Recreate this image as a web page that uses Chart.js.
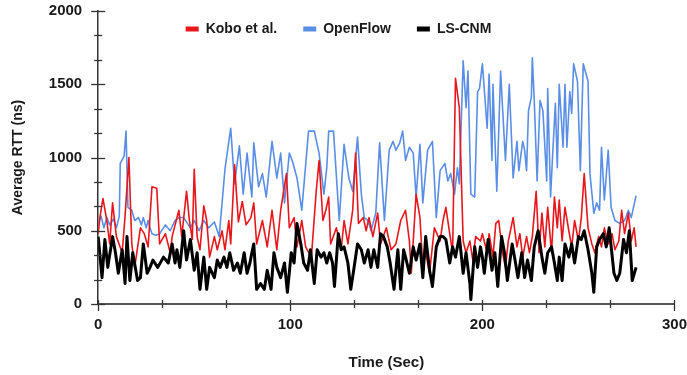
<!DOCTYPE html>
<html>
<head>
<meta charset="utf-8">
<script src="https://cdn.jsdelivr.net/npm/chart.js@4.4.0/dist/chart.umd.min.js"></script>
<style>
html,body{margin:0;padding:0;background:#fff;}
canvas{display:block;}
</style>
</head>
<body>
<canvas id="c" width="687" height="375"></canvas>
<script>
// ---------------- data ----------------
const seriesNames = ["Kobo et al.", "OpenFlow", "LS-CNM"];

const koboTimes = [0,1,2.5,4.5,6,7.5,9.5,12.5,14,16,17.5,19,22,24,26,28,30.5,32,35,37.5,38.5,42,43.5,46,47.5,49,50,51.5,53,55,56.5,58,60.5,62,64.5,66,68,69,71,73,75,77,79.5,81,82.5,85.5,88,90.5,93,95,98,99.5,102,103.5,106,108,111,113.5,115,117,118.5,120,121,124,126.5,128,130,132.5,134,135.5,138,139.5,141,143,145.5,147,150,152.5,155,157.5,160,162,163,165.5,167.5,169,170.5,172.5,175,178,179.5,181,183,184.5,186,188,190,191.5,193.5,195,196.5,199,200,202.5,203.5,205.5,207,208.5,210.5,212,213.5,216,218,219.5,221,223,224.5,226,228,229.5,231,232.5,234,236,237.5,239,240,241.5,243,245,246.5,248,250,251.5,253,255,257,258.5,260.5,262,263.5,265.5,267.5,269,271,272.5,274,276,277.5,279,280];
const koboValues = [480,600,720,570,410,690,460,350,600,1000,410,250,520,480,390,800,790,410,480,350,460,640,460,770,570,440,920,460,370,670,570,320,460,370,500,370,570,410,950,560,700,540,590,690,410,570,390,640,370,640,890,520,590,390,570,390,320,770,980,570,640,730,410,520,370,570,410,640,1030,550,590,500,590,460,620,410,520,370,410,570,640,430,210,750,590,250,350,210,520,430,570,660,480,350,1540,1340,430,350,430,300,460,430,480,350,480,320,550,570,350,250,430,590,390,480,320,460,350,460,770,350,620,390,660,350,730,520,710,430,660,500,390,570,430,590,890,520,410,350,460,390,520,410,480,370,430,640,480,620,430,520,390];

const openflowTimes = [0,1.5,3,4.5,6,8,9.5,11,11.5,13.5,14.5,15.5,17.5,19,21,22.5,23.5,25,26,27,28,30,32,35,37.5,40,42,44.5,48,50,52.5,55,57.5,60.5,63,66,69,71,73.5,75.5,77.5,80,81,83.5,85.5,87.5,90.5,93,95,97,99.5,101,103.5,106,109.5,112.5,115,117.5,119,120,122.5,125.5,128,130.5,132.5,135,137,138.5,140.5,142,144.5,146.5,149,151.5,153.5,155,157,158.5,160,162,164,165.5,167.5,169,171.5,174,176,178,180.5,182,183.5,185.5,187,188,190,191.5,192.5,194,196,197.5,198.5,200,202.5,203.5,205,205.5,207.5,209.5,210.5,212,214,216,218,219,221,222,223,224,225.5,226,227,228.5,230,231.5,233.5,234,235.5,236.5,238,239,240,242,243,244,245.5,246.5,247.5,249.5,251,252.5,255,256,258,259.5,261,262,263.5,265.5,267,269,271.5,274,276,277.5,280];
const openflowValues = [550,600,520,590,540,580,520,600,960,1010,1180,660,640,570,590,540,590,520,570,520,480,470,480,540,500,570,590,590,520,570,500,570,520,560,460,920,1200,820,1080,750,1030,730,1100,800,890,730,1110,860,1030,690,1030,980,860,640,1180,1180,1030,750,930,1180,1180,570,1090,860,770,1140,750,590,570,500,620,1100,570,1050,1110,1050,1100,1180,980,1070,1030,730,1090,690,1050,1110,590,910,960,840,890,750,930,820,1660,1340,1590,750,730,1450,1470,1640,1200,1570,980,1500,770,1590,1340,980,1500,860,1110,910,1110,1050,910,1320,1410,1680,1390,840,1390,1320,840,1470,730,1000,1370,930,1500,1070,1500,1070,1450,1300,1640,1520,910,1640,1520,890,620,690,640,1070,710,1050,660,570,550,570,640,590,740];

const lscnmTimes = [0,2,3.5,5,7.5,9,10.5,12.5,14,15,16.5,18,20.5,22,23.5,25.5,27,28.5,31,34,36.5,38.5,40,41,42.5,44.5,46,48,50,51.5,53,55,56.5,58,60.5,62,63.5,65.5,67,68.5,70.5,72.5,74,76,77.5,79,80,81,82.5,84.5,86.5,88,90,91.5,93,95,97,98.5,100.5,102,103.5,105.5,107,109,110.5,112.5,114,116,117.5,119,120.5,122,123,125,126.5,128,130,131.5,133,135,137,138.5,140.5,142,143.5,145.5,147,148.5,150.5,152,154,156,157.5,159,160,162,164,165.5,167.5,169,170.5,172.5,174,176,178,179.5,181,183,184.5,186,188,190,191.5,193.5,194,196,197.5,199,200,201,203,205,206.5,208,210,211.5,213,215.5,217,218.5,220.5,222,223.5,225.5,227,229,231,232.5,234,236,237.5,239,240,241.5,243,245,246.5,248,250,251.5,253,255,257,258,259.5,261,263,264.5,266,268.5,270,271.5,273.5,275,276.5,278,280];
const lscnmValues = [460,180,440,250,460,350,210,370,140,460,160,350,160,180,410,210,250,300,250,320,280,410,280,370,250,500,300,440,230,350,100,320,100,250,180,300,250,320,250,350,230,280,210,350,210,280,350,410,100,140,100,230,100,350,250,180,280,80,350,280,550,410,280,230,370,140,370,320,350,280,350,280,120,480,370,390,280,100,230,410,370,280,370,250,370,250,480,460,390,280,100,370,100,370,320,210,390,300,410,180,460,230,120,390,460,460,440,280,390,320,460,210,350,140,30,390,250,390,320,210,440,230,350,120,460,350,160,410,300,180,350,180,300,160,390,500,320,210,350,390,280,160,320,160,410,320,410,280,460,440,500,370,210,80,390,440,480,390,520,210,160,210,440,350,500,160,250];

const xMajorTicks = [0, 100, 200, 300];
const yMajorTicks = [0, 500, 1000, 1500, 2000];
const minorSteps = 3;

const seriesColors = ["#e8161b", "#5a8ee6", "#000000"];

// ------------- helpers -------------
function pts(ts, vs) { return ts.map((t, i) => ({ x: t, y: vs[i] })); }
function buildTicks(majors, n) {
  const out = [];
  for (let i = 0; i < majors.length; i++) {
    out.push({ value: majors[i], isMajor: true });
    if (i < majors.length - 1) {
      for (let k = 1; k < n; k++) {
        out.push({ value: majors[i] + (majors[i + 1] - majors[i]) * k / n, isMajor: false });
      }
    }
  }
  return out;
}

const FONT = "'Liberation Sans', Arial, sans-serif";
Chart.defaults.font.family = FONT;
Chart.defaults.font.weight = 'bold';
Chart.defaults.color = '#1a1a1a';

// legend drawn inside the top of the plot, not reserving layout space
const legendInPlot = {
  id: 'legendInPlot',
  afterInit(chart) {
    const lg = chart.legend;
    if (!lg) return;
    const fit = lg.fit;
    lg.fit = function () { fit.call(this); this._fullH = this.height; this.height = 0; };
    const draw = lg.draw;
    lg.draw = function () {
      const t = this.top, b = this.bottom, l = this.left, r = this.right;
      this.top = -4; this.bottom = this.top + this._fullH;
      this.left = l - 5; this.right = r - 5;
      draw.call(this);
      this.top = t; this.bottom = b; this.left = l; this.right = r;
    };
  }
};

// tick marks crossing the axis lines
const crossTicks = {
  id: 'crossTicks',
  afterDraw(chart) {
    const ctx = chart.ctx;
    ctx.save();
    ctx.strokeStyle = '#333';
    ctx.lineWidth = 1.3;
    const xs = chart.scales.x, ys = chart.scales.y;
    xs.ticks.forEach(t => {
      const p = Math.round(xs.getPixelForValue(t.value)) + 0.5;
      ctx.beginPath();
      ctx.moveTo(p, xs.top - 4);
      ctx.lineTo(p, xs.top + (t.isMajor ? 7 : 4));
      ctx.stroke();
    });
    ys.ticks.forEach(t => {
      const p = Math.round(ys.getPixelForValue(t.value)) + 0.5;
      const len = t.isMajor ? 7 : 4;
      ctx.beginPath();
      ctx.moveTo(ys.right - len, p);
      ctx.lineTo(ys.right + len, p);
      ctx.stroke();
    });
    ctx.restore();
  }
};

const hiddenGrid = (len) => ({ display: true, drawOnChartArea: false, drawTicks: true, tickLength: len, color: 'rgba(0,0,0,0)', tickColor: 'rgba(0,0,0,0)' });

new Chart(document.getElementById('c'), {
  type: 'line',
  data: {
    datasets: [
      { label: seriesNames[0], data: pts(koboTimes, koboValues), borderColor: seriesColors[0], backgroundColor: seriesColors[0], borderWidth: 1.6, order: 1 },
      { label: seriesNames[1], data: pts(openflowTimes, openflowValues), borderColor: seriesColors[1], backgroundColor: seriesColors[1], borderWidth: 1.6, order: 2 },
      { label: seriesNames[2], data: pts(lscnmTimes, lscnmValues), borderColor: seriesColors[2], backgroundColor: seriesColors[2], borderWidth: 3, order: 0 }
    ]
  },
  options: {
    responsive: false,
    animation: false,
    events: [],
    elements: { point: { radius: 0 }, line: { tension: 0, borderJoinStyle: 'round' } },
    layout: { padding: { top: 11, right: 0, bottom: 0, left: 0 } },
    plugins: {
      tooltip: { enabled: false },
      legend: {
        position: 'top',
        labels: {
          boxWidth: 13,
          boxHeight: 5,
          padding: 26,
          color: '#1a1a1a',
          font: { size: 14, weight: 'bold', family: FONT },
          sort: (a, b) => a.datasetIndex - b.datasetIndex,
          generateLabels(chart) {
            const items = Chart.defaults.plugins.legend.labels.generateLabels(chart);
            items.forEach(it => { it.fillStyle = it.strokeStyle; it.lineWidth = 0; });
            return items;
          }
        }
      }
    },
    scales: {
      x: {
        type: 'linear',
        min: 0, max: 300,
        grid: hiddenGrid(12),
        border: { display: true, color: '#555', width: 2 },
        afterBuildTicks: s => { s.ticks = buildTicks(xMajorTicks, minorSteps); },
        ticks: {
          autoSkip: false, maxRotation: 0, padding: 0,
          font: { size: 15, weight: 'bold' },
          callback: v => (xMajorTicks.includes(v) ? String(v) : '')
        },
        title: { display: true, text: 'Time (Sec)', font: { size: 15, weight: 'bold' }, padding: { top: 20, bottom: 3 } }
      },
      y: {
        type: 'linear',
        min: 0, max: 2000,
        grid: hiddenGrid(16),
        border: { display: true, color: '#333', width: 1.5 },
        afterBuildTicks: s => { s.ticks = buildTicks(yMajorTicks, minorSteps); },
        ticks: {
          autoSkip: false, padding: 0,
          font: { size: 15, weight: 'bold' },
          callback: v => (yMajorTicks.includes(v) ? String(v) : '')
        },
        title: { display: true, text: 'Average RTT (ns)', font: { size: 14, weight: 'bold' }, padding: { top: 10, bottom: 22 } }
      }
    }
  },
  plugins: [legendInPlot, crossTicks]
});
</script>
</body>
</html>
